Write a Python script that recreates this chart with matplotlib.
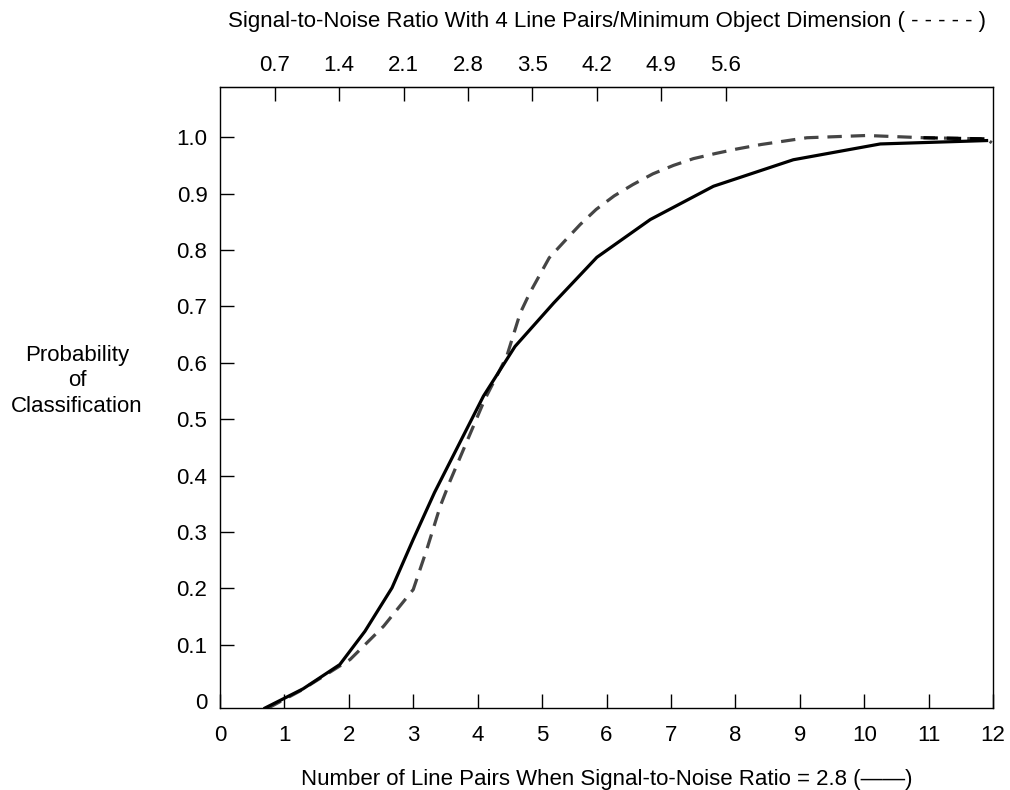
import matplotlib
matplotlib.use("Agg")
import matplotlib.pyplot as plt

plt.rcParams["font.family"] = ["Liberation Sans", "DejaVu Sans"]

# number of line pairs (bottom axis) vs probability of classification
solid_x = [0.70, 1.29, 1.86, 2.25, 2.67, 3.00, 3.33, 4.09, 4.58, 5.18, 5.85, 6.68, 7.66, 8.90, 10.25, 11.90]
solid_y = [-0.012, 0.022, 0.065, 0.124, 0.201, 0.287, 0.370, 0.541, 0.629, 0.706, 0.787, 0.854, 0.913, 0.960, 0.988, 0.994]

dash_x = [0.75, 1.24, 2.02, 2.54, 3.00, 3.21, 3.42, 3.57, 4.11, 4.45, 4.66, 4.81, 5.11, 5.36, 5.59, 5.84,
          6.12, 6.41, 6.72, 7.04, 7.35, 7.69, 8.02, 8.40, 9.11, 10.04, 10.92, 11.90, 11.98]
dash_y = [-0.012, 0.018, 0.074, 0.133, 0.198, 0.269, 0.346, 0.390, 0.535, 0.611, 0.688, 0.724, 0.786, 0.817, 0.845, 0.872,
          0.896, 0.916, 0.935, 0.950, 0.962, 0.971, 0.979, 0.987, 0.999, 1.003, 0.999, 0.997, 0.990]

x_ticks = list(range(0, 13))
y_ticks = [0, 0.1, 0.2, 0.3, 0.4, 0.5, 0.6, 0.7, 0.8, 0.9, 1.0]
y_labels = ["0", "0.1", "0.2", "0.3", "0.4", "0.5", "0.6", "0.7", "0.8", "0.9", "1.0"]
snr_ticks = [0.7, 1.4, 2.1, 2.8, 3.5, 4.2, 4.9, 5.6]

fig = plt.figure(figsize=(10.1, 7.9), dpi=100)
ax = fig.add_axes([0.2178, 0.1038, 0.7654, 0.7861])

ax.plot(dash_x, dash_y, color="#454545", lw=2.3, dashes=(4.5, 2.8))
ax.plot(dash_x[-3:], dash_y[-3:], color="black", lw=2.3, dashes=(4.5, 2.8))
ax.plot(solid_x, solid_y, color="black", lw=2.3)

ax.set_xlim(0, 12)
ax.set_ylim(-0.012, 1.089)
ax.set_xticks(x_ticks)
ax.set_yticks(y_ticks)
ax.set_yticklabels(y_labels)
ax.tick_params(direction="in", length=10, width=1, labelsize=16)
ax.tick_params(axis="y", pad=9)
ax.tick_params(axis="x", pad=12)
ax.yaxis.get_major_ticks()[0].tick1line.set_visible(False)
for s in ax.spines.values():
    s.set_linewidth(1)

ax.set_xlabel("Number of Line Pairs When Signal-to-Noise Ratio = 2.8 (\u2014\u2014)", fontsize=16, labelpad=17)

top = ax.secondary_xaxis("top", functions=(lambda x: 0.7 * (x + 0.15), lambda s: s / 0.7 - 0.15))
top.set_xticks(snr_ticks)
top.set_xticklabels([f"{v:.1f}" for v in snr_ticks])
top.tick_params(direction="in", length=10, width=1, labelsize=16, pad=8)
top.set_xlabel("Signal-to-Noise Ratio With 4 Line Pairs/Minimum Object Dimension ( - - - - - )",
               fontsize=16, labelpad=20)

fig.text(77 / 1010, 1 - 381 / 790, "Probability\nof\nClassification", ha="center", va="center",
         fontsize=16, linespacing=1.25)

fig.savefig("out.png", dpi=100)
